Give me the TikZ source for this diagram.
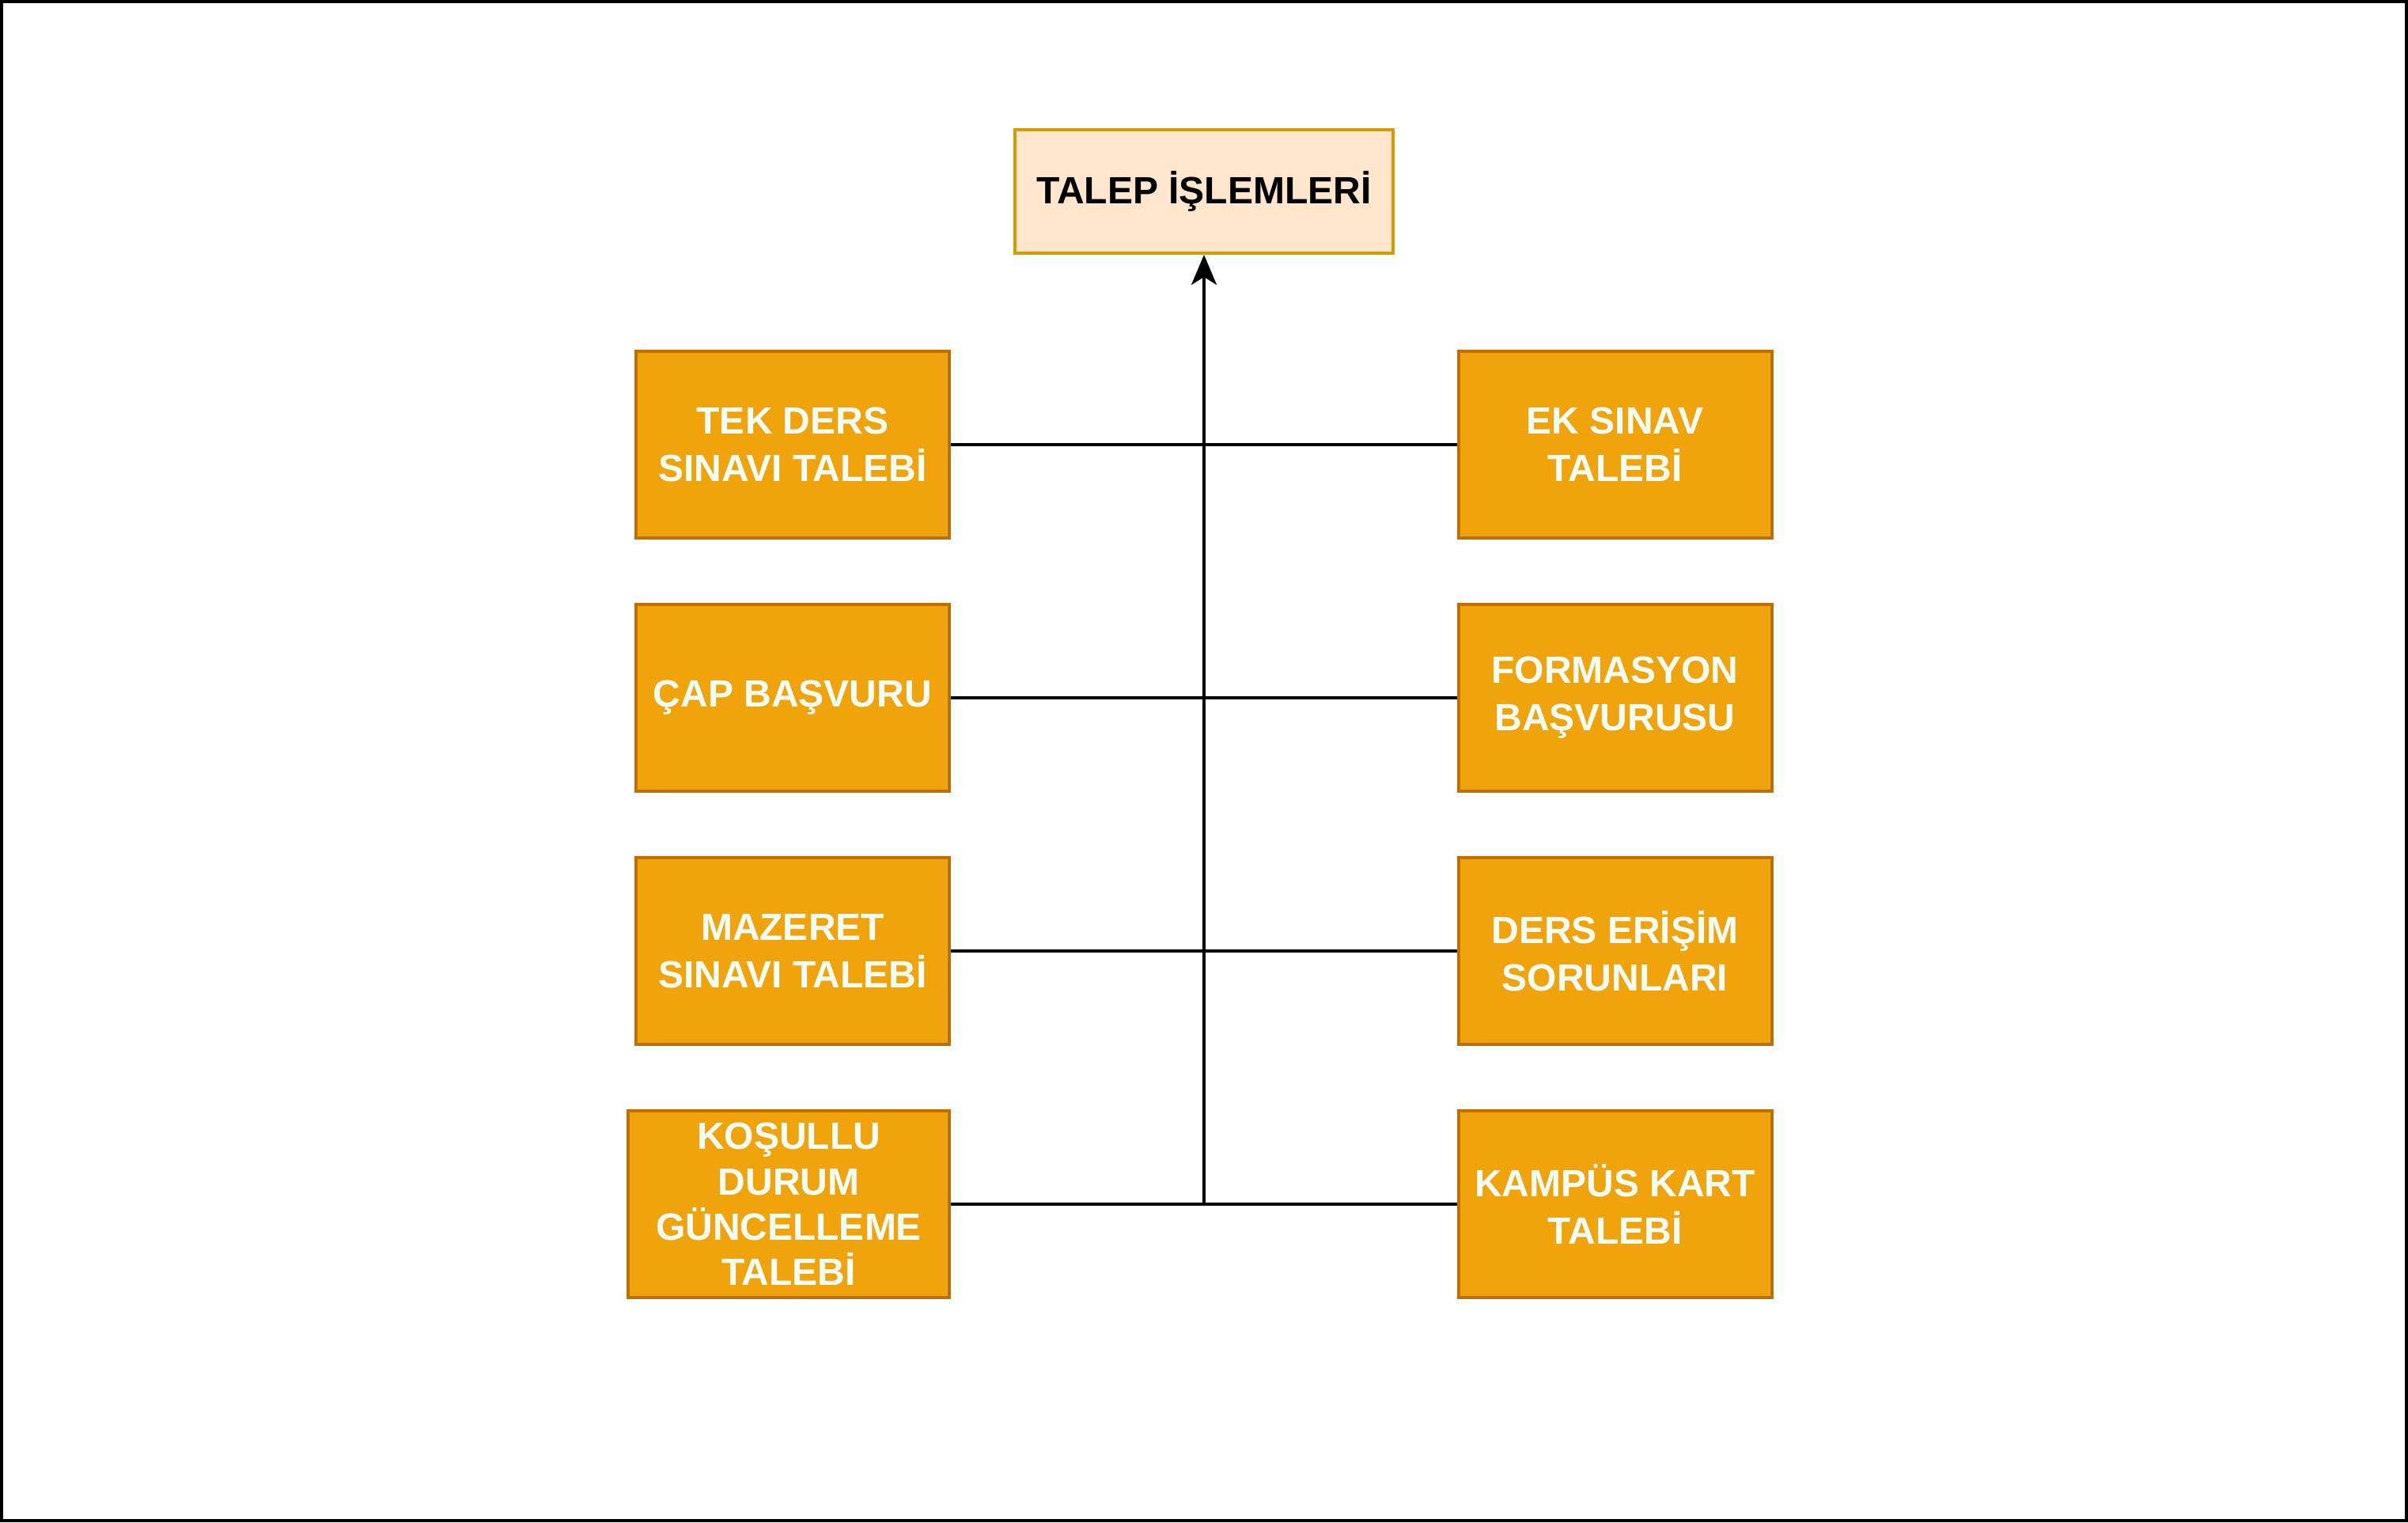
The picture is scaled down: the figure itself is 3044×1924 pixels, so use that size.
\documentclass[tikz,border=0pt]{standalone}
\usepackage{fontspec}
\setmainfont{Liberation Sans}
\usetikzlibrary{arrows.meta}
\definecolor{boxfill}{HTML}{F0A30A}
\definecolor{boxline}{HTML}{BD7000}
\definecolor{boxtext}{HTML}{F2FFF8}
\definecolor{topfill}{HTML}{FFE6CC}
\definecolor{topline}{HTML}{D79B00}
\tikzset{
  item/.style={rectangle, draw=boxline, fill=boxfill, line width=2pt,
    minimum width=198pt, minimum height=118pt, inner sep=2pt,
    align=center, text=boxtext,
    font=\bfseries\fontsize{24pt}{30pt}\selectfont},
  topbox/.style={rectangle, draw=topline, fill=topfill, line width=2pt,
    minimum width=239pt, minimum height=78pt, align=center, text=black,
    font=\bfseries\fontsize{24pt}{30pt}\selectfont},
  link/.style={line width=2pt, draw=black}
}
\begin{document}
\begin{tikzpicture}[x=0.5pt,y=-0.5pt]
\useasboundingbox (0,0) rectangle (3044,1924);
\draw[line width=2pt] (2,2) rectangle (3042,1922);
\node[topbox] (talep) at (1522,242) {TALEP İŞLEMLERİ};
\node[item] (tek) at (1002,562) {TEK DERS\\SINAVI TALEBİ};
\node[item] (cap) at (1002,882) {ÇAP BAŞVURU};
\node[item] (maz) at (1002,1202) {MAZERET\\SINAVI TALEBİ};
\node[item, minimum width=203pt, font=\bfseries\fontsize{24pt}{28.6pt}\selectfont] (kos) at (997,1522) {KOŞULLU\\DURUM\\GÜNCELLEME\\TALEBİ};
\node[item] (ek) at (2041.5,562) {EK SINAV\\TALEBİ};
\node[item] (for) at (2041.5,882) {FORMASYON\\BAŞVURUSU};
\node[item] (ders) at (2041.5,1202) {DERS ERİŞİM\\SORUNLARI};
\node[item] (kart) at (2041.5,1522) {KAMPÜS KART\\TALEBİ};
\coordinate (j) at (1522,1522);
\draw[link] (tek.east) -- (ek.west);
\draw[link] (cap.east) -- (for.west);
\draw[link] (maz.east) -- (ders.west);
\draw[link] (kos.east) -- (kart.west);
\draw[link, -{Stealth[length=19pt, width=16pt, inset=5pt]}] (j) -- (talep.south);
\end{tikzpicture}
\end{document}
